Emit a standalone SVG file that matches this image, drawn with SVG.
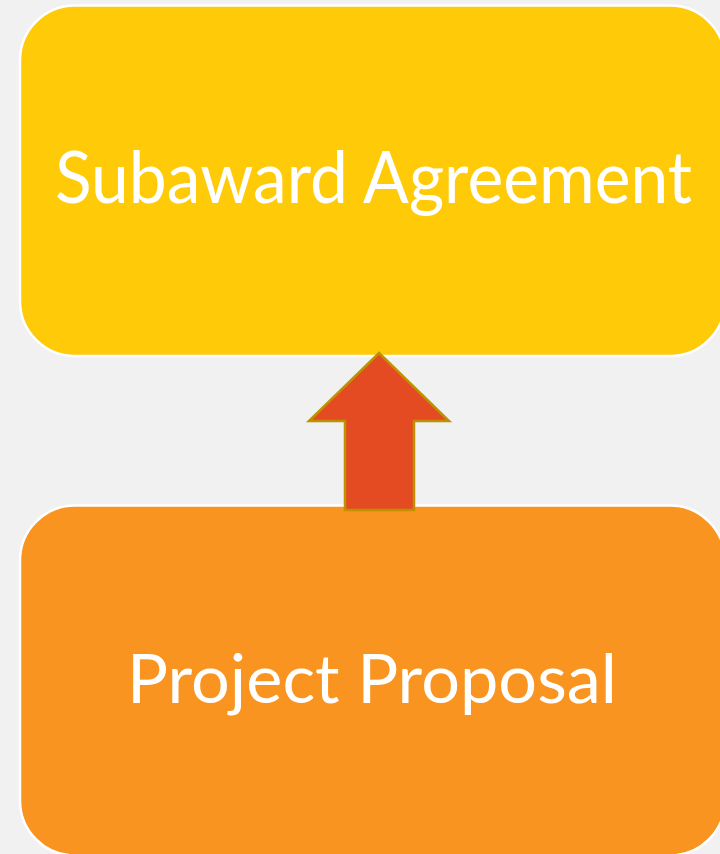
<svg xmlns="http://www.w3.org/2000/svg" width="720" height="854" viewBox="0 0 720 854">
<style>
.box{stroke:#FFFFFF;stroke-width:2.5}
.lbl{fill:#FFFFFF;font-family:Lato,"Open Sans","Liberation Sans",sans-serif;text-anchor:start}
</style>
<rect x="0" y="0" width="720" height="854" fill="#F1F1F1"/>
<g id="subaward-agreement">
<rect class="box" x="20" y="5.5" width="705" height="350.5" rx="55" ry="55" fill="#FFCA08"/>
<text class="lbl" x="55" y="203" font-size="71" textLength="637" lengthAdjust="spacingAndGlyphs">Subaward Agreement</text>
</g>
<g id="project-proposal">
<rect class="box" x="20" y="505.5" width="705" height="350" rx="55" ry="55" fill="#F8941F"/>
<text class="lbl" x="127" y="703" font-size="67" textLength="490" lengthAdjust="spacingAndGlyphs">Project Proposal</text>
</g>
<g id="connectors">
<polygon points="379,353 449,421 414,421 414,510 345,510 345,421 309,421" fill="#E44B22" stroke="#BF9000" stroke-width="2.5" stroke-linejoin="miter"/>
</g>
</svg>
